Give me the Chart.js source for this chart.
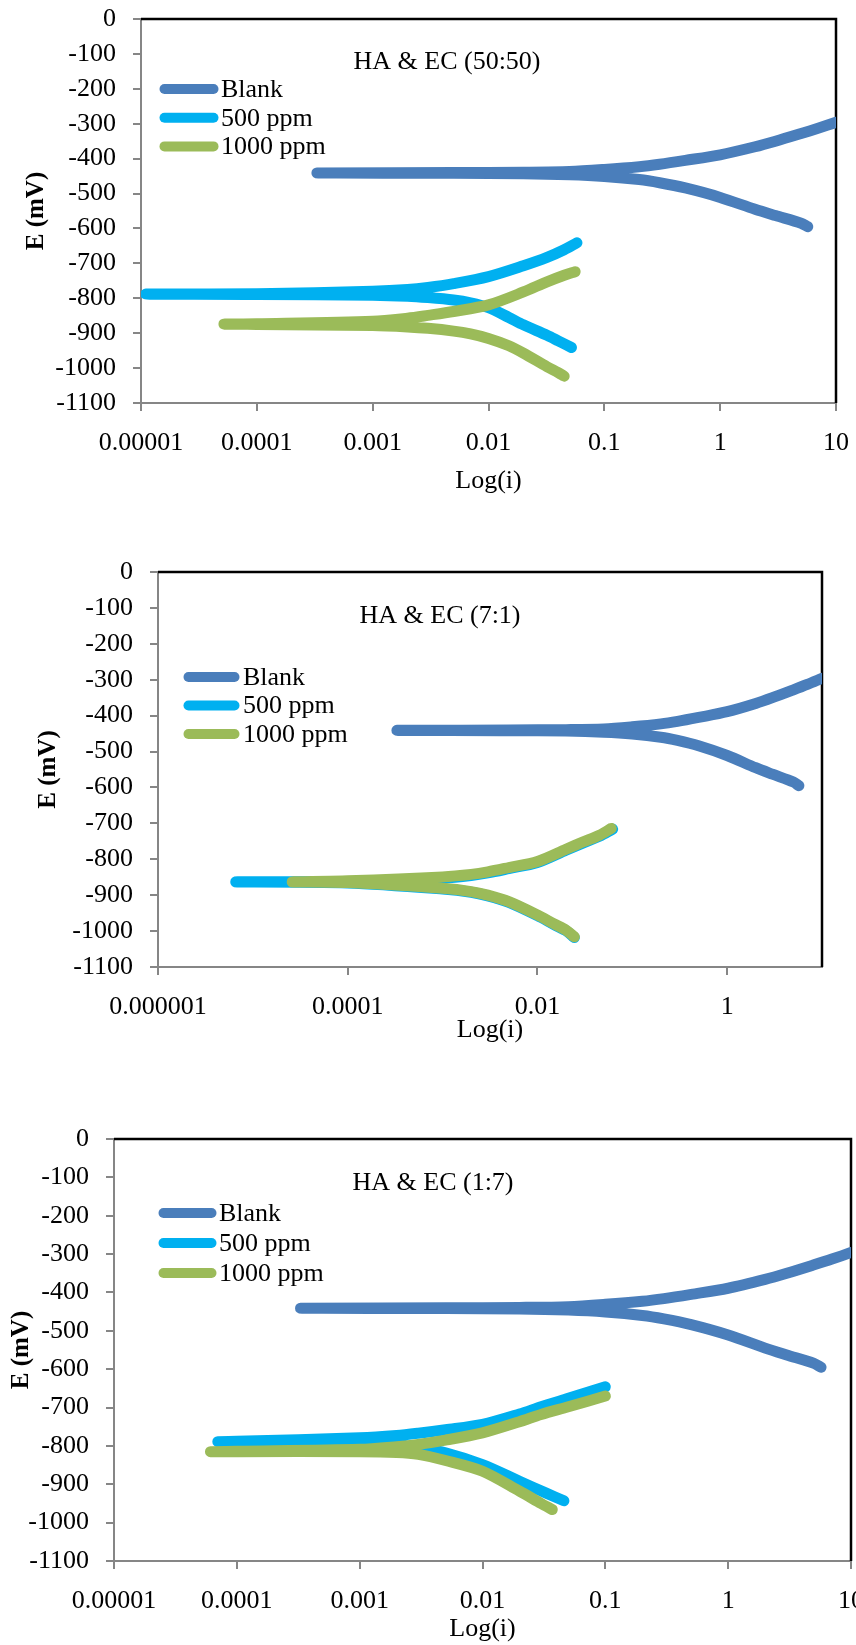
<!DOCTYPE html>
<html>
<head>
<meta charset="utf-8">
<title>Tafel plots - HA &amp; EC</title>
<script src="https://cdn.jsdelivr.net/npm/chart.js@4.4.0/dist/chart.umd.min.js"></script>
<style>
  html, body { margin: 0; padding: 0; background: #fff; overflow: hidden; }
  body { position: relative; width: 856px; height: 1645px; }
  canvas { position: absolute; left: 0; }
</style>
</head>
<body>
<canvas id="c1"></canvas>
<canvas id="c2"></canvas>
<canvas id="c3"></canvas>
<script>
// Polarization (Tafel) curves for three HA & EC mixtures.
// Every series is listed in sweep order: cathodic end -> corrosion potential
// (smallest current) -> anodic end, so the line folds back on itself.

const seriesLabels = ["Blank", "500 ppm", "1000 ppm"];
const seriesColors = ["#4a7ebb", "#00b0f0", "#9bbb59"];
const panelTitles = ["HA & EC (50:50)", "HA & EC (7:1)", "HA & EC (1:7)"];

const yTicks = [-1100, -1000, -900, -800, -700, -600, -500, -400, -300, -200, -100, 0];

const xTicksWide = [0.00001, 0.0001, 0.001, 0.01, 0.1, 1, 10];
const xLabelsWide = ["0.00001", "0.0001", "0.001", "0.01", "0.1", "1", "10"];
const xTicksSparse = [0.000001, 0.0001, 0.01, 1];
const xLabelsSparse = ["0.000001", "0.0001", "0.01", "1"];

// Blank is the same measurement in all three panels
const blankI = [5.7, 5.0, 3.0, 2.0, 1.0, 0.5, 0.3, 0.2, 0.1, 0.05, 0.02, 0.005, 0.00033,
  0.005, 0.02, 0.05, 0.1, 0.2, 0.3, 0.5, 1.0, 2.0, 3.0, 5.0, 7.0, 10];
const blankE = [-595, -585, -563, -545, -511, -484, -469, -460, -451, -446, -443, -442, -441,
  -440, -439, -437, -431, -423, -416, -405, -389, -366, -350, -328, -313, -296];

// HA & EC (50:50)
const mixA500I = [0.052, 0.04, 0.032, 0.02, 0.015, 0.01, 0.007, 0.005, 0.003, 0.002, 0.001, 0.0001, 0.000011,
  0.0001, 0.001, 0.002, 0.003, 0.005, 0.01, 0.02, 0.032, 0.045, 0.058];
const mixA500E = [-941, -922, -906, -876, -855, -827, -813, -805, -798, -794, -791, -789, -788,
  -787, -780, -775, -769, -758, -738, -707, -683, -661, -641];
const mixA1000I = [0.045, 0.04, 0.032, 0.02, 0.015, 0.01, 0.007, 0.005, 0.003, 0.002, 0.001, 0.0001, 0.000052,
  0.0001, 0.001, 0.002, 0.003, 0.005, 0.01, 0.02, 0.032, 0.045, 0.056];
const mixA1000E = [-1023, -1013, -996, -957, -936, -915, -902, -894, -886, -882, -878, -875, -874,
  -873, -866, -857, -849, -838, -819, -782, -753, -734, -724];

// HA & EC (7:1)
const mixB500I = [0.0245, 0.02, 0.015, 0.01, 0.005, 0.003, 0.002, 0.001, 0.0001, 0.0000066,
  0.0001, 0.001, 0.002, 0.003, 0.005, 0.01, 0.02, 0.03, 0.045, 0.062];
const mixB500E = [-1018, -999, -982, -957, -920, -902, -892, -883, -866, -863,
  -862, -852, -845, -838, -826, -809, -775, -755, -736, -716];
const mixB1000I = [0.0245, 0.02, 0.015, 0.01, 0.005, 0.003, 0.002, 0.001, 0.0001, 0.000026,
  0.0001, 0.001, 0.002, 0.003, 0.005, 0.01, 0.02, 0.03, 0.045, 0.06];
const mixB1000E = [-1016, -997, -980, -955, -918, -900, -890, -881, -865, -863,
  -860, -849, -842, -835, -823, -806, -772, -752, -733, -714];

// HA & EC (1:7)
const mixC500I = [0.046, 0.033, 0.02, 0.01, 0.005, 0.003, 0.002, 0.001, 0.0001, 0.00007,
  0.0001, 0.001, 0.002, 0.003, 0.005, 0.01, 0.02, 0.03, 0.05, 0.1];
const mixC500E = [-943, -923, -892, -849, -818, -805, -797, -791, -789, -789,
  -788, -779, -773, -767, -758, -744, -717, -698, -676, -646];
const mixC1000I = [0.037, 0.03, 0.02, 0.01, 0.005, 0.003, 0.002, 0.001, 0.0001, 0.000061,
  0.0001, 0.001, 0.002, 0.003, 0.005, 0.01, 0.02, 0.03, 0.05, 0.1];
const mixC1000E = [-966, -950, -918, -866, -838, -822, -817, -815, -815, -815,
  -814, -809, -802, -796, -785, -766, -737, -718, -698, -670];

const SERIF = "'Liberation Serif', 'Times New Roman', serif";
const AXIS_GRAY = "#868686";
const PAGE_WIDTH = 856;
const LINE_W = 11;

// page coordinates of each panel (plot area, title, legend)
const panels = [
  {
    id: "c1", pageTop: 0,
    area: { left: 141, right: 836, top: 19, bottom: 403 },
    xAxisHeight: 94, yTitlePad: 22,
    xTicks: xTicksWide, xLabels: xLabelsWide, xMin: 0.00001, xMax: 10,
    title: panelTitles[0], titleX: 447, titleY: 62,
    legend: { x0: 159, x1: 219, y: 89, gap: 28.7, textX: 221 },
    series: [[blankI, blankE], [mixA500I, mixA500E], [mixA1000I, mixA1000E]],
  },
  {
    id: "c2", pageTop: 540,
    area: { left: 158, right: 822, top: 572, bottom: 967 },
    xAxisHeight: 79, yTitlePad: 34,
    xTicks: xTicksSparse, xLabels: xLabelsSparse, xMin: 0.000001, xMax: 10,
    title: panelTitles[1], titleX: 440, titleY: 616,
    legend: { x0: 183, x1: 240, y: 677, gap: 28.5, textX: 243 },
    series: [[blankI, blankE], [mixB500I, mixB500E], [mixB1000I, mixB1000E]],
  },
  {
    id: "c3", pageTop: 1110,
    area: { left: 114, right: 851, top: 1139, bottom: 1561 },
    xAxisHeight: 84, yTitlePad: 7,
    xTicks: xTicksWide, xLabels: xLabelsWide, xMin: 0.00001, xMax: 10,
    title: panelTitles[2], titleX: 433, titleY: 1183,
    legend: { x0: 158, x1: 217, y: 1213, gap: 30, textX: 219 },
    series: [[blankI, blankE], [mixC500I, mixC500E], [mixC1000I, mixC1000E]],
  },
];

// Black top/right frame, the in-plot title and the line-sample legend
const panelDecor = {
  id: "panelDecor",
  beforeDatasetsDraw(chart) {
    const { ctx, chartArea: a } = chart;
    ctx.save();
    ctx.strokeStyle = "#000";
    ctx.lineWidth = 2.5;
    ctx.beginPath();
    ctx.moveTo(a.left, a.top);
    ctx.lineTo(a.right, a.top);
    ctx.lineTo(a.right, a.bottom);
    ctx.stroke();
    ctx.restore();
  },
  afterDraw(chart, _args, opts) {
    const ctx = chart.ctx;
    ctx.save();
    ctx.font = "26px " + SERIF;
    ctx.fillStyle = "#000";
    ctx.textBaseline = "middle";
    ctx.textAlign = "center";
    ctx.fillText(opts.title, opts.titleX, opts.titleY);

    const lg = opts.legend;
    ctx.textAlign = "left";
    chart.data.datasets.forEach((ds, k) => {
      const y = lg.y + k * lg.gap;
      ctx.strokeStyle = ds.borderColor;
      ctx.lineWidth = LINE_W - 1;
      ctx.lineCap = "round";
      ctx.beginPath();
      ctx.moveTo(lg.x0 + LINE_W / 2, y);
      ctx.lineTo(lg.x1 - LINE_W / 2, y);
      ctx.stroke();
      ctx.fillText(ds.label, lg.textX, y + 1);
    });
    ctx.restore();
  },
};

function makeChart(panel) {
  const canvas = document.getElementById(panel.id);
  const a = panel.area;
  const height = a.bottom - panel.pageTop + panel.xAxisHeight;
  canvas.width = PAGE_WIDTH;
  canvas.height = height;
  canvas.style.top = panel.pageTop + "px";

  const datasets = panel.series.map(([cur, pot], k) => ({
    label: seriesLabels[k],
    data: cur.map((x, j) => ({ x, y: pot[j] })),
    borderColor: seriesColors[k],
    backgroundColor: seriesColors[k],
    borderWidth: LINE_W,
    borderCapStyle: "round",
    borderJoinStyle: "round",
    pointRadius: 0,
    pointHoverRadius: 0,
    tension: 0.3,
    fill: false,
    order: seriesLabels.length - k, // later series painted on top, like Excel
  }));

  const tickFont = { family: SERIF, size: 26 };
  const axisGrid = { drawOnChartArea: false, drawTicks: true, tickLength: 8, color: AXIS_GRAY, lineWidth: 2 };

  return new Chart(canvas, {
    type: "line",
    data: { datasets },
    options: {
      responsive: false,
      animation: false,
      events: [],
      layout: {
        padding: { top: a.top - panel.pageTop, right: PAGE_WIDTH - a.right, bottom: 0, left: 0 },
      },
      plugins: {
        legend: { display: false },
        tooltip: { enabled: false },
        panelDecor: {
          title: panel.title,
          titleX: panel.titleX,
          titleY: panel.titleY - panel.pageTop,
          legend: { ...panel.legend, y: panel.legend.y - panel.pageTop },
        },
      },
      scales: {
        x: {
          type: "logarithmic",
          min: panel.xMin,
          max: panel.xMax,
          afterBuildTicks: (scale) => {
            scale.ticks = panel.xTicks.map((value) => ({ value }));
          },
          afterFit: (scale) => {
            scale.height = panel.xAxisHeight;
            scale.paddingLeft = 0;
            scale.paddingRight = 0;
          },
          ticks: {
            autoSkip: false,
            maxRotation: 0,
            padding: 17,
            color: "#000",
            font: tickFont,
            callback: (_value, index) => panel.xLabels[index],
          },
          grid: axisGrid,
          border: { color: AXIS_GRAY, width: 2 },
          title: { display: true, text: "Log(i)", color: "#000", font: tickFont, padding: 0 },
        },
        y: {
          type: "linear",
          min: yTicks[0],
          max: yTicks[yTicks.length - 1],
          afterBuildTicks: (scale) => {
            scale.ticks = yTicks.map((value) => ({ value }));
          },
          afterFit: (scale) => {
            scale.width = a.left;
            scale.paddingTop = 0;
            scale.paddingBottom = 0;
          },
          ticks: {
            padding: 17,
            color: "#000",
            font: tickFont,
            callback: (value) => String(value),
          },
          grid: axisGrid,
          border: { color: AXIS_GRAY, width: 2 },
          title: {
            display: true,
            text: "E (mV)",
            color: "#000",
            font: { family: SERIF, size: 25, weight: "bold" },
            padding: { top: panel.yTitlePad, bottom: 0 },
          },
        },
      },
    },
    plugins: [panelDecor],
  });
}

panels.forEach(makeChart);
</script>
</body>
</html>
